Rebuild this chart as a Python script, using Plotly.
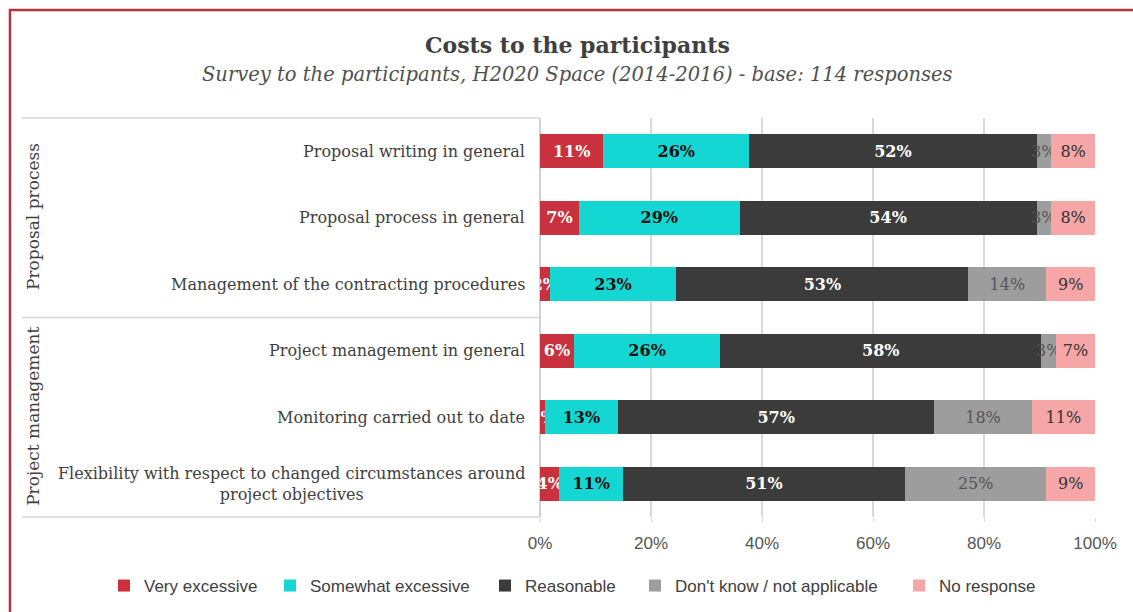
import plotly.graph_objects as go

# Survey base and answer categories
BASE = 114
items = [
    "Proposal writing in general",
    "Proposal process in general",
    "Management of the contracting procedures",
    "Project management in general",
    "Monitoring carried out to date",
    "Flexibility with respect to changed circumstances around<br>project objectives",
]
groups = ["Proposal process", "Project management"]

# Number of respondents per answer, one value per item (same order as items)
very_excessive = [13, 8, 2, 7, 1, 4]
somewhat_excessive = [30, 33, 26, 30, 15, 13]
reasonable = [59, 61, 60, 66, 65, 58]
dont_know = [3, 3, 16, 3, 20, 29]
no_response = [9, 9, 10, 8, 13, 10]

series = [
    ("Very excessive", very_excessive, "#c8313d", "#ffffff", "bold"),
    ("Somewhat excessive", somewhat_excessive, "#14d6d3", "#111111", "bold"),
    ("Reasonable", reasonable, "#3b3b3b", "#ffffff", "bold"),
    ("Don't know / not applicable", dont_know, "#9d9d9d", "#555555", "normal"),
    ("No response", no_response, "#f6a6a6", "#333333", "normal"),
]
# Horizontal position of each legend entry (pixels from the left edge)
legend_left = [104, 270, 485, 635, 899]

SERIF = "DejaVu Serif"
SANS = "Liberation Sans"
W, H = 1133, 612

fig = go.Figure()
legends = {}
for i, (name, counts, color, tcolor, weight) in enumerate(series):
    pct = [c / BASE * 100 for c in counts]
    lg = "legend" if i == 0 else f"legend{i + 1}"
    fig.add_trace(go.Bar(
        name=name,
        y=items,
        x=pct,
        orientation="h",
        legend=lg,
        marker=dict(color=color, line=dict(width=0)),
        text=[f"{int(p + 0.5)}%" for p in pct],
        textposition="inside",
        insidetextanchor="middle",
        textangle=0,
        constraintext="none",
        textfont=dict(family=SERIF, size=16, color=tcolor, weight=weight),
        hoverinfo="skip",
    ))
    legends[lg] = dict(
        xref="container", yref="container",
        x=legend_left[i] / W, xanchor="left",
        y=(H - 586) / H, yanchor="middle",
        orientation="h", bgcolor="rgba(0,0,0,0)",
        font=dict(family=SANS, size=17, color="#404040"),
        itemwidth=30,
    )

annotations = []
# Item labels to the left of the bars
for it in items:
    annotations.append(dict(
        x=-0.0234, xref="paper", y=it, yref="y",
        text=it, showarrow=False, xanchor="right", yanchor="middle",
        align="center", font=dict(family=SERIF, size=16, color="#404040"),
    ))
# Group labels, rotated
for g, yp in zip(groups, [0.752, 0.251]):
    annotations.append(dict(
        x=-0.9135, xref="paper", y=yp, yref="paper",
        text=g, textangle=-90, showarrow=False,
        xanchor="center", yanchor="middle",
        font=dict(family=SERIF, size=17, color="#404040"),
    ))
# Title and subtitle
annotations.append(dict(
    x=0.068, xref="paper", y=1.183, yref="paper", xanchor="center", yanchor="middle",
    text="<b>Costs to the participants</b>", showarrow=False,
    font=dict(family=SERIF, size=22, color="#404040"),
))
annotations.append(dict(
    x=0.068, xref="paper", y=1.110, yref="paper", xanchor="center", yanchor="middle",
    text="<i>Survey to the participants, H2020 Space (2014-2016) - base: 114 responses</i>",
    showarrow=False, font=dict(family=SERIF, size=19.5, color="#505050"),
))

line_style = dict(color="#d6d6d6", width=1.5)
shapes = [
    dict(type="line", xref="paper", yref="paper", x0=-0.9333, x1=0, y0=y, y1=y, line=line_style)
    for y in (1.0, 0.5, 0.0)
]
# Outer frame
shapes.append(dict(type="rect", xref="paper", yref="paper",
                   x0=-0.955, x1=1.2, y0=-0.3, y1=1.2707,
                   line=dict(color="#b8323e", width=2.5), fillcolor="rgba(0,0,0,0)"))

fig.update_layout(
    width=W, height=H,
    barmode="stack", bargap=0.49,
    margin=dict(l=540, r=38, t=118, b=95, autoexpand=False),
    plot_bgcolor="white", paper_bgcolor="white",
    showlegend=True,
    xaxis=dict(range=[0, 100], dtick=20, ticksuffix="%", showgrid=True,
               gridcolor="#d9d9d9", gridwidth=1.5, zeroline=True, zerolinecolor="#d0d0d0",
               zerolinewidth=1.5, ticks="outside", ticklen=4, tickcolor="#d9d9d9",
               ticklabelstandoff=7,
               tickfont=dict(family=SANS, size=17, color="#555555"), fixedrange=True),
    yaxis=dict(autorange="reversed", showticklabels=False, showgrid=False,
               zeroline=False, ticks="", fixedrange=True),
    annotations=annotations,
    shapes=shapes,
    uniformtext=dict(minsize=16, mode="show"),
    **legends,
)

fig.write_html("out.html")
